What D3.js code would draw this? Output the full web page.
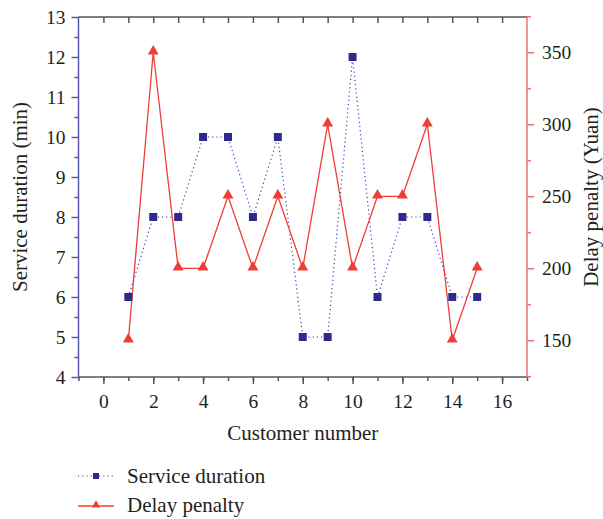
<!DOCTYPE html>
<html>
<head>
<meta charset="utf-8">
<script src="https://cdn.jsdelivr.net/npm/d3@7"></script>
<style>
  body { margin: 0; background: #fff; }
  text { font-family: "Liberation Serif", "Times New Roman", serif; fill: #231f20; }
</style>
</head>
<body>
<svg width="603" height="519"></svg>
<script>
// data
var customers = [1, 2, 3, 4, 5, 6, 7, 8, 9, 10, 11, 12, 13, 14, 15];
var serviceDuration = [6, 8, 8, 10, 10, 8, 10, 5, 5, 12, 6, 8, 8, 6, 6];
var delayPenalty = [150, 350, 200, 200, 250, 200, 250, 200, 300, 200, 250, 250, 300, 150, 200];
var xTicks = [0, 2, 4, 6, 8, 10, 12, 14, 16];
var leftTicks = [4, 5, 6, 7, 8, 9, 10, 11, 12, 13];
var rightTicks = [150, 200, 250, 300, 350];

var svg = d3.select("svg");
var plotLeft = 78.5, plotRight = 527, plotTop = 17, plotBottom = 377;

var x = d3.scaleLinear().domain([-1, 17]).range([plotLeft, plotRight]);
var yL = d3.scaleLinear().domain([4, 13]).range([plotBottom, plotTop]);
var yR = d3.scaleLinear().domain([124.5, 374.5]).range([plotBottom, plotTop]);

var blue = "#2e2a8c", blueLine = "#3f3fb5", red = "#ef3e36", leftAxisCol = "#5a58ad", rightAxisCol = "#f07070";

// minor ticks first, majors on top
function styleAxis(g, col) {
    g.select(".domain").remove();
    g.selectAll("line").attr("stroke", col).attr("stroke-width", 1.5);
    g.selectAll("text").style("font-size", "19.5px").style("fill", "#231f20");
}

// bottom axis
svg.append("g").attr("transform", "translate(0," + plotBottom + ")")
    .call(d3.axisBottom(x).tickValues(d3.range(-1, 18, 1)).tickSize(4).tickFormat(""))
    .call(styleAxis, "#555");
svg.append("g").attr("transform", "translate(0," + plotBottom + ")")
    .call(d3.axisBottom(x).tickValues(xTicks).tickSize(7).tickPadding(10))
    .call(styleAxis, "#555");

// top mirror ticks
svg.append("g").attr("transform", "translate(0," + plotTop + ")")
    .call(d3.axisTop(x).tickValues(d3.range(0, 17, 1)).tickSize(-6).tickFormat(""))
    .call(styleAxis, "#555");

// left axis
svg.append("g").attr("transform", "translate(" + plotLeft + ",0)")
    .call(d3.axisLeft(yL).tickValues(d3.range(4.5, 13, 1)).tickSize(4).tickFormat(""))
    .call(styleAxis, leftAxisCol);
svg.append("g").attr("transform", "translate(" + plotLeft + ",0)")
    .call(d3.axisLeft(yL).tickValues(leftTicks).tickSize(7).tickPadding(6))
    .call(styleAxis, leftAxisCol);

// right axis
svg.append("g").attr("transform", "translate(" + plotRight + ",0)")
    .call(d3.axisRight(yR).tickValues([125, 175, 225, 275, 325, 375]).tickSize(4).tickFormat(""))
    .call(styleAxis, rightAxisCol);
svg.append("g").attr("transform", "translate(" + plotRight + ",0)")
    .call(d3.axisRight(yR).tickValues(rightTicks).tickSize(7).tickPadding(8))
    .call(styleAxis, rightAxisCol);

// frame lines
svg.append("line").attr("x1", plotLeft).attr("x2", plotRight).attr("y1", plotTop).attr("y2", plotTop)
    .attr("stroke", "#555").attr("stroke-width", 1.5);
svg.append("line").attr("x1", plotLeft).attr("x2", plotRight).attr("y1", plotBottom).attr("y2", plotBottom)
    .attr("stroke", "#555").attr("stroke-width", 1.5);
svg.append("line").attr("x1", plotLeft).attr("x2", plotLeft).attr("y1", plotTop).attr("y2", plotBottom)
    .attr("stroke", leftAxisCol).attr("stroke-width", 1.5);
svg.append("line").attr("x1", plotRight).attr("x2", plotRight).attr("y1", plotTop).attr("y2", plotBottom)
    .attr("stroke", rightAxisCol).attr("stroke-width", 1.5);

// service duration: dotted line + squares
var lineL = d3.line().x(function (d, i) { return x(customers[i]); }).y(function (d) { return yL(d); });
svg.append("path").datum(serviceDuration)
    .attr("d", lineL).attr("fill", "none")
    .attr("stroke", blueLine).attr("stroke-width", 1.2).attr("stroke-dasharray", "1.2,3");

// delay penalty: solid line + triangles
var lineR = d3.line().x(function (d, i) { return x(customers[i]); }).y(function (d) { return yR(d); });
svg.append("path").datum(delayPenalty)
    .attr("d", lineR).attr("fill", "none")
    .attr("stroke", red).attr("stroke-width", 1.3);

svg.append("g").selectAll("rect").data(serviceDuration).enter().append("rect")
    .attr("x", function (d, i) { return x(customers[i]) - 4; })
    .attr("y", function (d) { return yL(d) - 4; })
    .attr("width", 8).attr("height", 8).attr("fill", blue);

var tri = d3.symbol().type(d3.symbolTriangle).size(52);
svg.append("g").selectAll("path").data(delayPenalty).enter().append("path")
    .attr("d", tri)
    .attr("transform", function (d, i) { return "translate(" + x(customers[i]) + "," + (yR(d) - 1) + ")"; })
    .attr("fill", red);

// axis titles
svg.append("text").attr("x", (plotLeft + plotRight) / 2).attr("y", 440)
    .attr("text-anchor", "middle").style("font-size", "21px").text("Customer number");
svg.append("text").attr("transform", "translate(27," + ((plotTop + plotBottom) / 2) + ") rotate(-90)")
    .attr("text-anchor", "middle").style("font-size", "21px").text("Service duration (min)");
svg.append("text").attr("transform", "translate(598," + ((plotTop + plotBottom) / 2) + ") rotate(-90)")
    .attr("text-anchor", "middle").style("font-size", "21px").text("Delay penalty (Yuan)");

// legend
var lg = svg.append("g");
lg.append("line").attr("x1", 78).attr("x2", 114).attr("y1", 476).attr("y2", 476)
    .attr("stroke", blueLine).attr("stroke-width", 1.2).attr("stroke-dasharray", "1.2,3");
lg.append("rect").attr("x", 93).attr("y", 473).attr("width", 6).attr("height", 6).attr("fill", blue);
lg.append("text").attr("x", 127).attr("y", 483).style("font-size", "21px").text("Service duration");
lg.append("line").attr("x1", 78).attr("x2", 114).attr("y1", 506).attr("y2", 506)
    .attr("stroke", red).attr("stroke-width", 1.3);
lg.append("path").attr("d", d3.symbol().type(d3.symbolTriangle).size(30))
    .attr("transform", "translate(96,505)").attr("fill", red);
lg.append("text").attr("x", 127).attr("y", 512).style("font-size", "21px").text("Delay penalty");
</script>
</body>
</html>
